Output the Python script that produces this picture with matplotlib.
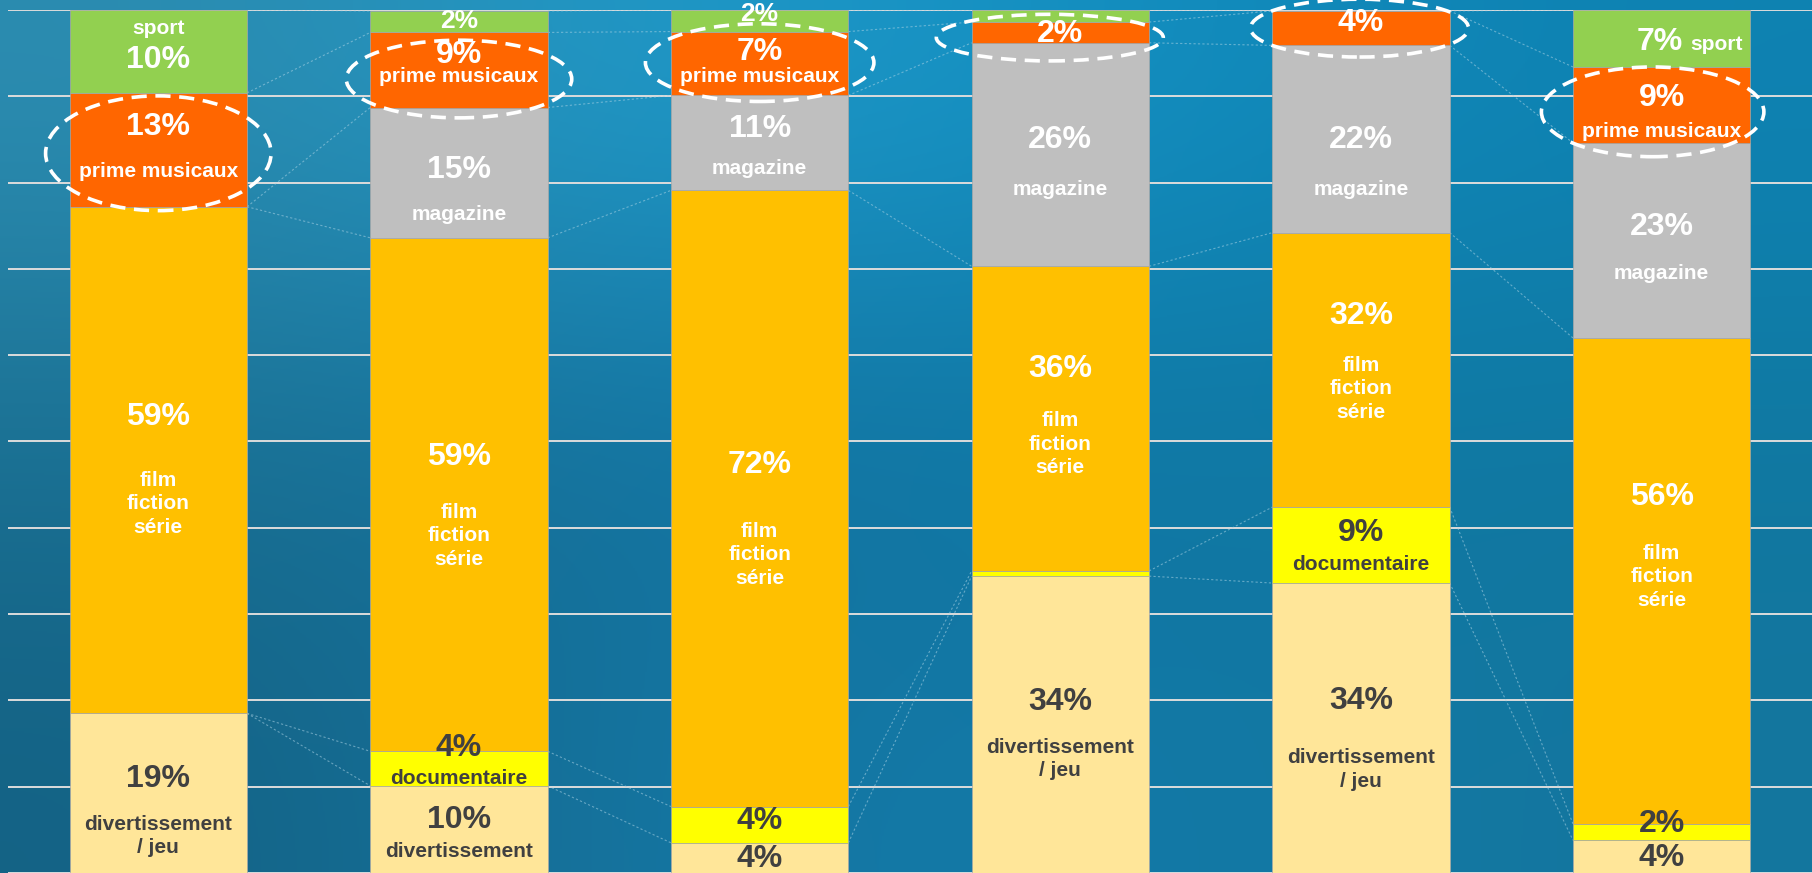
import numpy as np
import matplotlib.pyplot as plt
from matplotlib.patches import Ellipse

plt.rcParams['font.family'] = ['Liberation Sans', 'DejaVu Sans']

# six stacked bars (shares in %)
divertissement = [18.5, 10.1, 3.5, 34.4, 33.6, 3.8]
documentaire = [0.0, 4.0, 4.2, 0.6, 8.8, 1.9]
film = [58.7, 59.5, 71.4, 35.3, 31.8, 56.3]
magazine = [0.0, 15.1, 11.0, 25.9, 21.7, 22.6]
prime = [13.2, 8.7, 7.4, 2.4, 4.0, 8.8]
sport = [9.6, 2.5, 2.5, 1.4, 0.0, 6.6]

# printed labels
divertissement_lbl = ["19%", "10%", "4%", "34%", "34%", "4%"]
documentaire_lbl = ["", "4%", "4%", "", "9%", "2%"]
film_lbl = ["59%", "59%", "72%", "36%", "32%", "56%"]
magazine_lbl = ["", "15%", "11%", "26%", "22%", "23%"]
prime_lbl = ["13%", "9%", "7%", "2%", "4%", "9%"]
sport_lbl = ["10%", "2%", "2%", "", "", "7%"]

names = ["divertissement\n/ jeu", "documentaire", "film\nfiction\nsérie",
         "magazine", "prime musicaux", "sport"]
series = [divertissement, documentaire, film, magazine, prime, sport]
labels = [divertissement_lbl, documentaire_lbl, film_lbl, magazine_lbl, prime_lbl, sport_lbl]
colors = ["#FFE699", "#FFFF00", "#FFC000", "#BFBFBF", "#FF6600", "#92D050"]
text_colors = ["#404040", "#404040", "white", "white", "white", "white"]

# label placement (y of percent, y of name) per series per bar
pct_y = [
    [10.9, 6.1, 1.6, 19.8, 19.9, 1.7],
    [None, 14.5, 6.0, None, 39.4, 5.7],
    [52.8, 48.2, 47.3, 58.4, 64.5, 43.6],
    [None, 81.5, 86.2, 84.9, 84.9, 74.8],
    [86.4, 94.8, 95.1, 97.2, 98.5, 89.8],
    [94.2, 98.7, 99.5, None, None, None],
]
name_y = [
    [4.3, None, None, 13.2, 12.0, None],
    [None, 11.0, None, None, 35.7, None],
    [42.8, 39.1, 36.9, 49.7, 56.1, 34.3],
    [None, 76.3, 81.6, 79.2, 79.2, 69.5],
    [81.3, 92.3, 92.3, None, None, 85.9],
    [97.9, None, None, None, None, None],
]
pct_size = {(5, 1): 19, (5, 2): 19}

# dashed ellipses round the "prime musicaux" block: (dx, cy, w, h)
ellipses = [(0.0, 83.4, 0.75, 13.3), (0.0, 92.0, 0.75, 9.0), (0.0, 93.9, 0.76, 9.0),
            (-0.035, 96.8, 0.755, 5.4), (-0.005, 97.9, 0.725, 6.7), (-0.03, 88.2, 0.74, 10.4)]

fig = plt.figure(figsize=(18.12, 8.73), dpi=100)

# blue backdrop
bg = fig.add_axes([0, 0, 1, 1])
bg.axis("off")
grid_rgb = np.array([
    [[44, 140, 176], [32, 156, 204], [18, 142, 192], [14, 130, 178]],
    [[26, 112, 146], [18, 112, 158], [14, 118, 162], [16, 120, 160]],
    [[20, 98, 132], [22, 120, 165], [18, 122, 168], [20, 118, 158]],
]) / 255.0
bg.imshow(grid_rgb, aspect="auto", interpolation="bicubic", extent=[0, 1, 0, 1])
bg.set_xlim(0, 1)
bg.set_ylim(0, 1)

ax = fig.add_axes([8 / 1812, 0, 1 - 8 / 1812, 1 - 10 / 873])
ax.patch.set_alpha(0)
ax.set_xlim(-0.5, 5.5)
ax.set_ylim(0.23, 100)
ax.set_yticks(np.arange(0, 101, 10))
ax.yaxis.grid(True, color="#dcdcdc", lw=1.4)
ax.set_axisbelow(True)
ax.tick_params(length=0, labelleft=False, labelbottom=False)
ax.set_xticks([])
for s in ax.spines.values():
    s.set_visible(False)

x = np.arange(6)
w = 0.59
bottom = np.zeros(6)
for vals, col in zip(series, colors):
    vals = np.array(vals)
    ax.bar(x, vals, bottom=bottom, width=w, color=col, edgecolor="#a8a8a8",
           lw=0.5, zorder=2)
    tops = bottom + vals
    for i in range(5):
        ax.plot([x[i] + w / 2, x[i + 1] - w / 2], [tops[i], tops[i + 1]],
                ls=(0, (2, 2)), color="#a9d2e4", lw=0.8, alpha=0.55, zorder=1.5)
    bottom = tops

# segment labels
for k in range(6):
    for i in range(6):
        if pct_y[k][i] is not None:
            ax.text(x[i], pct_y[k][i], labels[k][i], ha="center", va="center",
                    fontsize=pct_size.get((k, i), 23), fontweight="bold",
                    color=text_colors[k], zorder=5)
        if name_y[k][i] is not None:
            ax.text(x[i], name_y[k][i], names[k], ha="center", va="center",
                    fontsize=15, fontweight="bold", color=text_colors[k],
                    linespacing=1.3, zorder=5)

# second bar: only the first word of the bottom name fits
ax.text(x[1], 2.5, names[0].split("\n")[0], ha="center", va="center", fontsize=15,
        fontweight="bold", color=text_colors[0], zorder=5)

# last bar: "7% sport" on one line
ax.text(x[5] + 0.072, 95.4, sport_lbl[5], ha="right", va="baseline", fontsize=23,
        fontweight="bold", color="white", zorder=5)
ax.text(x[5] + 0.094, 95.4, "sport", ha="left", va="baseline", fontsize=15,
        fontweight="bold", color="white", zorder=5)

for i, (dx, cy, ew, eh) in enumerate(ellipses):
    ax.add_patch(Ellipse((x[i] + dx, cy), ew, eh, fill=False, edgecolor="white",
                         lw=2.6, ls=(0, (4.2, 2.4)), zorder=6, clip_on=False))

fig.savefig("out.png", dpi=100)
